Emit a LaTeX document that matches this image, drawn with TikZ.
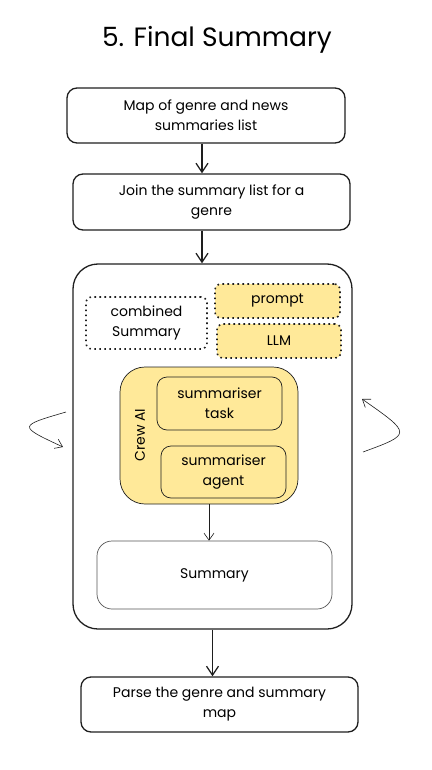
\documentclass[tikz,border=0pt]{standalone}
\usepackage{fontspec}
\setmainfont{Poppins}
\usepackage{xcolor}
\usetikzlibrary{positioning, arrows.meta}

\definecolor{note}{HTML}{FFE999}
\definecolor{ink}{HTML}{1E1E1E}

\begin{document}
\begin{tikzpicture}[x=1pt, y=-1pt,
    box/.style={rectangle, rounded corners=10pt, draw=ink, line width=1.3pt, align=center, font=\fontsize{14}{20}\selectfont},
    dotbox/.style={rectangle, rounded corners=6pt, draw=ink, line width=1.6pt, dash pattern=on 1.6pt off 3.4pt, align=center, font=\fontsize{14}{20}\selectfont},
    thinbox/.style={rectangle, rounded corners=10pt, draw=ink, line width=0.7pt, align=center, font=\fontsize{14}{20}\selectfont},
    flow/.style={draw=ink, line width=1.3pt, -{Straight Barb[length=9pt, width=12pt]}},
    thinflow/.style={draw=ink, line width=0.6pt, -{Straight Barb[length=7pt, width=10pt]}}]
            \useasboundingbox (0, 0) rectangle (431, 770);
            \node[font=\fontsize{26.5}{30}\selectfont] (title) at (217, 40) {5. Final Summary};

            \node[box, minimum width=278pt, minimum height=55pt] (map) at (206, 115.5) {Map of genre and news\\summaries list};
            \node[box, minimum width=277pt, minimum height=56pt] (join) at (211.5, 202) {Join the summary list for a\\genre};

            \node[box, rounded corners=25pt, minimum width=279pt, minimum height=365pt] (loop) at (212.5, 446.5) {};
            \node[dotbox, minimum width=121pt, minimum height=52pt] (combined) at (146.5, 323) {combined\\Summary};
            \node[dotbox, fill=note, minimum width=125pt, minimum height=34pt] (prompt) at (277.5, 301) {prompt};
            \node[dotbox, fill=note, minimum width=124pt, minimum height=34pt] (llm) at (279, 341) {LLM};

            \node[thinbox, fill=note, rounded corners=25pt, minimum width=178pt, minimum height=137pt] (crew) at (209, 435.5) {};
            \node[rotate=90, font=\fontsize{14}{15}\selectfont] (crewlabel) at (140, 435) {Crew AI};
            \node[thinbox, minimum width=125pt, minimum height=53pt] (task) at (219.5, 403.5) {summariser\\task};
            \node[thinbox, minimum width=125pt, minimum height=52pt] (agent) at (223.5, 472) {summariser\\agent};

            \node[thinbox, draw=ink!75, rounded corners=15pt, minimum width=235pt, minimum height=68pt] (summary) at (214.5, 575) {Summary};

            \node[box, minimum width=277pt, minimum height=55pt] (parse) at (219.5, 704.5) {Parse the genre and summary\\map};

            \coordinate (ls) at (66, 412);
            \coordinate (le) at (63, 447);
            \coordinate (rs) at (363, 452);
            \coordinate (re) at (362, 399);

            \draw[flow] (map.south -| 202, 0) -- (join.north -| 202, 0);
            \draw[flow] (join.south -| 202, 0) -- (loop.north -| 202, 0);
            \draw[thinflow] (crew.south) -- (summary.north -| crew.south);
            \draw[flow] (loop.south) -- (parse.north -| loop.south);
            \draw[thinflow] (ls) .. controls (18, 426) .. (le);
            \draw[thinflow] (rs) .. controls (412, 434) .. (re);
        \end{tikzpicture}
\end{document}
